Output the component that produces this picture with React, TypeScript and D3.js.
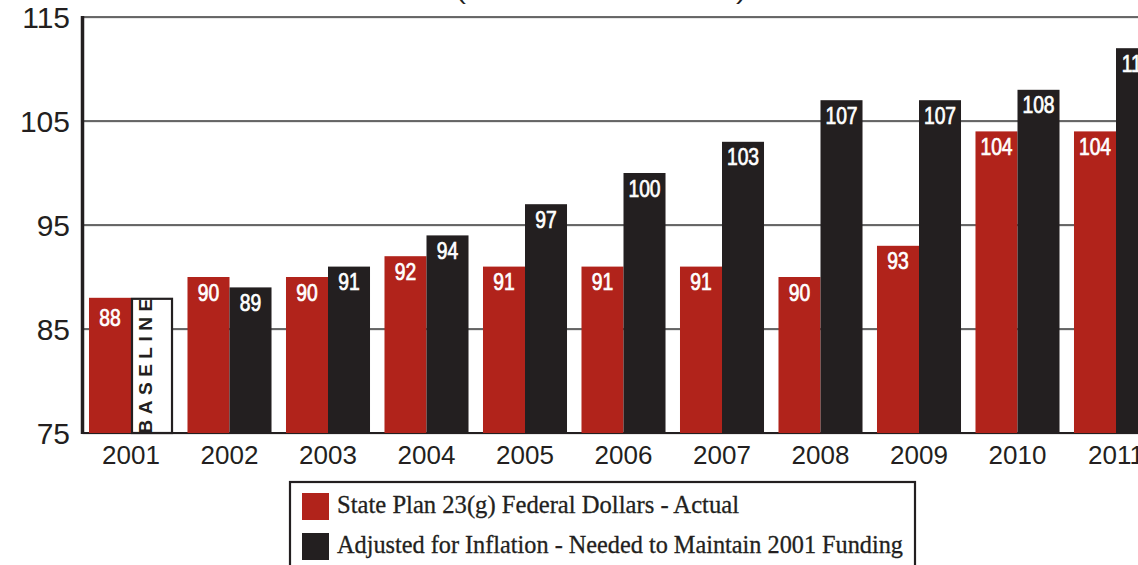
import React, { useEffect, useRef } from 'react';
import * as d3 from 'd3';

// chart data
const years = ['2001', '2002', '2003', '2004', '2005', '2006', '2007', '2008', '2009', '2010', '2011'];
const actual = [88, 90, 90, 92, 91, 91, 91, 90, 93, 104, 104];
const adjusted = [88, 89, 91, 94, 97, 100, 103, 107, 107, 108, 112];
const yTicks = [75, 85, 95, 105, 115];
const seriesNames = [
  'State Plan 23(g) Federal Dollars - Actual',
  'Adjusted for Inflation - Needed to Maintain 2001 Funding',
];
const titleText = '(In Millions of Dollars)';

const App: React.FC = () => {
  const svgRef = useRef<SVGSVGElement>(null);

  useEffect(() => {
    if (!svgRef.current) return;
    d3.select(svgRef.current).selectAll('*').remove();

    const width = 1138;
    const height = 565;
    const red = '#b1231b';
    const dark = '#231f20';
    const gridColor = '#3a3a3a';
    const sans = '"Liberation Sans", Arial, sans-serif';
    const serif = '"Liberation Serif", "DejaVu Serif", serif';

    const svg = d3.select(svgRef.current)
      .attr('width', width)
      .attr('height', height);

    const axisX = 82.5;

    const y = d3.scaleLinear().domain([75, 115]).range([433, 17]);

    const x = d3.scaleBand<string>()
      .domain(years)
      .range([81.75, 81.75 + years.length * 98.5])
      .paddingInner(0.147)
      .paddingOuter(0.0735);

    const xInner = d3.scaleBand<string>()
      .domain(['actual', 'adjusted'])
      .range([0, x.bandwidth()]);

    // condensed white value label inside a bar
    const barLabel = (cx: number, top: number, value: number) => {
      svg.append('text')
        .attr('transform', `translate(${cx},${top + 23.5}) scale(0.84,1)`)
        .attr('text-anchor', 'middle')
        .attr('font-family', sans)
        .attr('font-size', 23)
        .attr('fill', '#fff')
        .attr('stroke', '#fff')
        .attr('stroke-width', 0.7)
        .text(value);
    };

    // title (mostly cropped above the frame)
    svg.append('text')
      .attr('x', 601)
      .attr('y', -1)
      .attr('text-anchor', 'middle')
      .attr('font-family', sans)
      .attr('font-size', 24)
      .attr('textLength', 290)
      .attr('lengthAdjust', 'spacingAndGlyphs')
      .attr('fill', dark)
      .text(titleText);

    // gridlines
    yTicks.forEach(t => {
      svg.append('line')
        .attr('x1', axisX)
        .attr('x2', width)
        .attr('y1', y(t) + 1)
        .attr('y2', y(t) + 1)
        .attr('stroke', '#cfcfcf')
        .attr('stroke-width', 1);
      svg.append('line')
        .attr('x1', axisX)
        .attr('x2', width)
        .attr('y1', y(t))
        .attr('y2', y(t))
        .attr('stroke', t === 75 ? dark : gridColor)
        .attr('stroke-width', t === 75 ? 2.2 : 1.6);

      svg.append('text')
        .attr('x', 70)
        .attr('y', y(t) + 11)
        .attr('text-anchor', 'end')
        .attr('font-family', sans)
        .attr('font-size', 30)
        .attr('fill', dark)
        .text(t);
    });

    // bars
    years.forEach((yr, i) => {
      const gx = x(yr) as number;
      const ax = gx + (xInner('actual') as number);
      const bx = gx + (xInner('adjusted') as number);
      const bw = xInner.bandwidth();

      svg.append('rect')
        .attr('x', ax)
        .attr('y', y(actual[i]))
        .attr('width', bw)
        .attr('height', y(75) - y(actual[i]))
        .attr('fill', red);

      barLabel(ax + bw / 2, y(actual[i]) + (i === 0 ? 5 : 0), actual[i]);

      if (i === 0) {
        // baseline box
        svg.append('rect')
          .attr('x', bx + 1)
          .attr('y', y(adjusted[i]) + 1)
          .attr('width', bw - 2)
          .attr('height', y(75) - y(adjusted[i]) - 1)
          .attr('fill', '#fff')
          .attr('stroke', dark)
          .attr('stroke-width', 2.2);
        const cx = bx + 14;
        const cy = (y(adjusted[i]) + y(75)) / 2 - 2;
        svg.append('text')
          .attr('transform', `translate(${cx + 7},${cy}) rotate(-90)`)
          .attr('text-anchor', 'middle')
          .attr('font-family', sans)
          .attr('font-size', 19)
          .attr('font-weight', 'bold')
          .attr('letter-spacing', 5.5)
          .attr('fill', dark)
          .text('BASELINE');
      } else {
        svg.append('rect')
          .attr('x', bx)
          .attr('y', y(adjusted[i]))
          .attr('width', bw)
          .attr('height', y(75) - y(adjusted[i]))
          .attr('fill', dark);

        barLabel(bx + bw / 2, y(adjusted[i]), adjusted[i]);
      }

      // x labels
      svg.append('text')
        .attr('x', gx + x.bandwidth() / 2)
        .attr('y', 464)
        .attr('text-anchor', 'middle')
        .attr('font-family', sans)
        .attr('font-size', 26)
        .attr('fill', dark)
        .text(yr);
    });

    // y axis line
    svg.append('line')
      .attr('x1', axisX)
      .attr('x2', axisX)
      .attr('y1', y(115) - 1)
      .attr('y2', y(75) + 1)
      .attr('stroke', dark)
      .attr('stroke-width', 3.5);

    // legend
    const legend = svg.append('g');
    legend.append('rect')
      .attr('x', 290)
      .attr('y', 482)
      .attr('width', 625)
      .attr('height', 100)
      .attr('fill', '#fff')
      .attr('stroke', dark)
      .attr('stroke-width', 2.2);

    const legendColors = [red, dark];
    const legendWidths = [402, 566];
    seriesNames.forEach((name, i) => {
      const ly = 493 + i * 40;
      legend.append('rect')
        .attr('x', 302)
        .attr('y', ly)
        .attr('width', 27)
        .attr('height', 27)
        .attr('fill', legendColors[i]);
      legend.append('text')
        .attr('x', 337)
        .attr('y', ly + 20)
        .attr('font-family', serif)
        .attr('font-size', 25)
        .attr('textLength', legendWidths[i])
        .attr('lengthAdjust', 'spacingAndGlyphs')
        .attr('fill', dark)
        .attr('stroke', dark)
        .attr('stroke-width', 0.3)
        .text(name);
    });
  }, []);

  return (
    <div style={{ position: 'absolute', left: 0, top: 0 }}>
      <svg ref={svgRef} style={{ display: 'block' }}></svg>
    </div>
  );
};

export default App;
